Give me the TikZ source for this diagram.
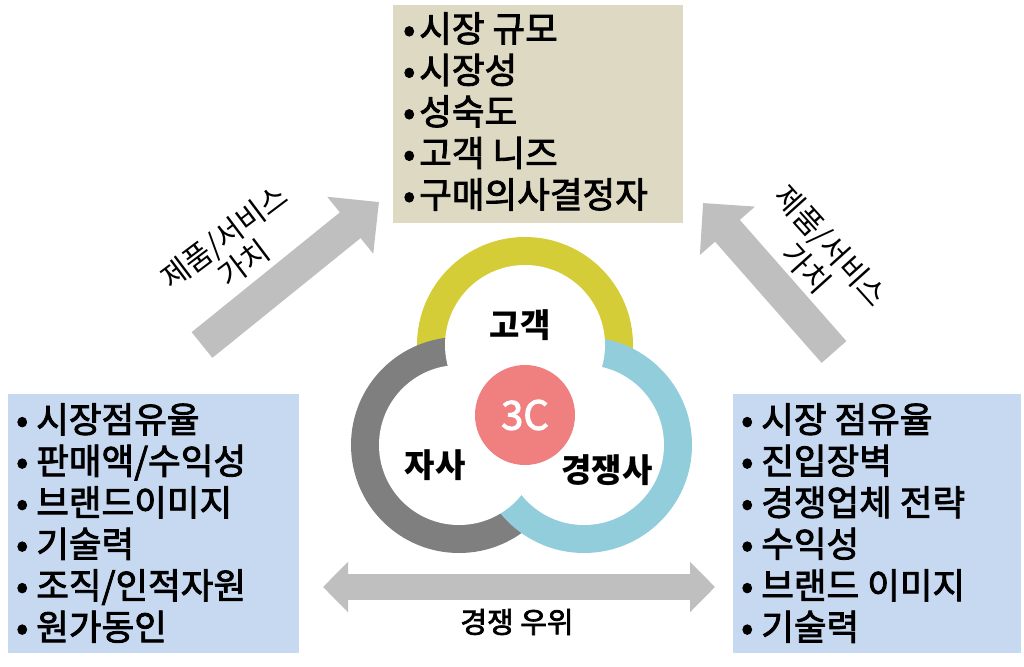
\documentclass[tikz,border=0pt]{standalone}
\usepackage{fontspec}
\setmainfont{Noto Sans CJK KR}
\newfontfamily\krmid[FakeBold=2.4]{Noto Sans CJK KR}
\usetikzlibrary{arrows.meta}
\definecolor{beige}{HTML}{DDD9C3}
\definecolor{lblue}{HTML}{C6D9F1}
\definecolor{agray}{HTML}{BFBFBF}
\definecolor{ringY}{HTML}{D5CD38}
\definecolor{ringG}{HTML}{7F7F7F}
\definecolor{ringB}{HTML}{92CDDC}
\definecolor{pink}{HTML}{F08080}
\newcommand{\lbul}{•\hspace{4pt}}
\newcommand{\wbul}{•\hspace{8pt}}
\tikzset{
  listtext/.style={anchor=west, inner sep=0pt, align=left, font=\krmid\fontsize{35.5}{41.5}\selectfont},
  ringlabel/.style={inner sep=0pt, font=\fontsize{33}{36}\selectfont\bfseries},
  arrowlabel/.style={inner sep=0pt, align=center, font=\fontsize{30}{33}\selectfont},
  diagarrow/.style={draw=agray, line width=33pt, -{Triangle[length=37pt,width=71pt]}},
  hzarrow/.style={draw=agray, line width=26pt, {Triangle[length=25pt,width=49pt]}-{Triangle[length=25pt,width=49pt]}}
}
\begin{document}
\begin{tikzpicture}[x=1pt,y=-1pt]
\useasboundingbox (0,0) rectangle (1024,666);
% boxes
\fill[beige] (393,5) rectangle (683,223);
\fill[lblue] (8,394) rectangle (299,653);
\fill[lblue] (733,394) rectangle (1021,653);
% lists
\node[listtext] (market) at (403,111.5) {\lbul 시장 규모\\\lbul 시장성\\\lbul 성숙도\\\lbul 고객 니즈\\\lbul 구매의사결정자};
\node[listtext] (self) at (16,523) {\wbul 시장점유율\\\wbul 판매액/수익성\\\wbul 브랜드이미지\\\wbul 기술력\\\wbul 조직/인적자원\\\wbul 원가동인};
\node[listtext] (comp) at (741,523) {\wbul 시장 점유율\\\wbul 진입장벽\\\wbul 경쟁업체 전략\\\wbul 수익성\\\wbul 브랜드 이미지\\\wbul 기술력};
% arrows
\coordinate (la0) at (202,345);
\coordinate (la1) at (379,202);
\coordinate (ra0) at (834,352);
\coordinate (ra1) at (703,203);
\coordinate (ha0) at (323,587);
\coordinate (ha1) at (715,587);
\draw[diagarrow] (la0) -- (la1);
\draw[diagarrow] (ra0) -- (ra1);
\draw[hzarrow] (ha0) -- (ha1);
\node[arrowlabel, rotate=37] (lval) at (234,250) {제품/서비스\\가치};
\node[arrowlabel, rotate=-48] (rval) at (819,257) {제품/서비스\\가치};
\node[inner sep=0pt, font=\krmid\fontsize{29}{30}\selectfont] (adv) at (517,622) {경쟁 우위};
% rings
\coordinate (cT) at (525,345);
\coordinate (cL) at (459,445);
\coordinate (cR) at (584,445);
\fill[ringY] (cT) circle[radius=108];
\fill[ringG] (cL) circle[radius=108];
\fill[ringB] (cR) circle[radius=108];
\fill[white] (cT) circle[radius=80];
\fill[white] (cL) circle[radius=80];
\fill[white] (cR) circle[radius=80];
\node[circle, fill=pink, minimum size=100pt, inner sep=0pt, text=white, font=\krmid\fontsize{40}{42}\selectfont] (three) at (525,415) {3C};
\node[ringlabel] (cust) at (520,325) {고객};
\node[ringlabel] (us) at (435,465) {자사};
\node[ringlabel] (rival) at (607,470) {경쟁사};
\end{tikzpicture}
\end{document}
